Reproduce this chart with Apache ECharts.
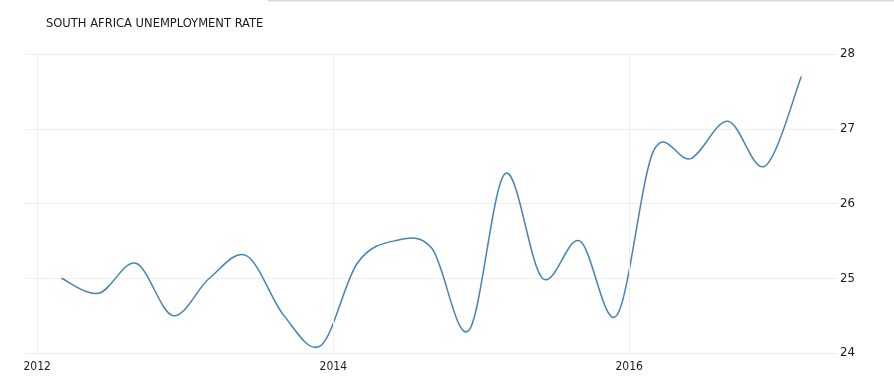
<!DOCTYPE html>
<html>
<head>
<meta charset="utf-8">
<script src="https://cdn.jsdelivr.net/npm/echarts@6/dist/echarts.min.js"></script>
<style>
html,body{margin:0;padding:0;background:#fff;}
#c{width:894px;height:392px;}
</style>
</head>
<body>
<div id="c"></div>
<script>
const titleText = "SOUTH AFRICA UNEMPLOYMENT RATE";
const dates = [
  "2012-03-01","2012-06-01","2012-09-01","2012-12-01",
  "2013-03-01","2013-06-01","2013-09-01","2013-12-01",
  "2014-03-01","2014-06-01","2014-09-01","2014-12-01",
  "2015-03-01","2015-06-01","2015-09-01","2015-12-01",
  "2016-03-01","2016-06-01","2016-09-01","2016-12-01",
  "2017-03-01"
];
const rates = [
  25.0, 24.8, 25.2, 24.5,
  25.0, 25.3, 24.5, 24.1,
  25.2, 25.5, 25.4, 24.3,
  26.4, 25.0, 25.5, 24.5,
  26.7, 26.6, 27.1, 26.5,
  27.7
];
const xTickDates = ["2012-01-01", "2014-01-01", "2016-01-01"];
const yTicks = [24, 25, 26, 27, 28];
const xMin = "2011-12-02";
const xMax = "2017-05-28";

const FONT = "'DejaVu Sans Condensed', 'DejaVu Sans', sans-serif";
const ts = d => Date.parse(d + "T00:00:00Z");
const xTickVals = xTickDates.map(ts);
const seriesData = dates.map((d, i) => [ts(d), rates[i]]);

// Catmull-Rom spline through the pixel positions given by the chart's own scales
function splinePath(pts) {
  const n = pts.length;
  let d = 'M' + pts[0][0] + ' ' + pts[0][1];
  for (let i = 0; i < n - 1; i++) {
    const p0 = pts[Math.max(i - 1, 0)];
    const p1 = pts[i];
    const p2 = pts[i + 1];
    const p3 = pts[Math.min(i + 2, n - 1)];
    const c1x = p1[0] + (p2[0] - p0[0]) / 6;
    const c1y = p1[1] + (p2[1] - p0[1]) / 6;
    const c2x = p2[0] - (p3[0] - p1[0]) / 6;
    const c2y = p2[1] - (p3[1] - p1[1]) / 6;
    d += ' C' + c1x + ' ' + c1y + ' ' + c2x + ' ' + c2y + ' ' + p2[0] + ' ' + p2[1];
  }
  return d;
}

const chart = echarts.init(document.getElementById('c'), null, {renderer: 'canvas'});
chart.setOption({
  animation: false,
  backgroundColor: '#fff',
  title: {
    text: titleText,
    left: 41,
    top: 12,
    textStyle: {fontFamily: FONT, fontSize: 12.8, fontWeight: 'normal', color: '#1a1a1a'}
  },
  graphic: [{
    type: 'line',
    shape: {x1: 268, y1: 0.5, x2: 894, y2: 0.5},
    style: {stroke: '#d8d8d8', lineWidth: 2}
  }],
  grid: {left: 25, right: 57, top: 54, bottom: 39},
  xAxis: {
    type: 'value',
    min: ts(xMin),
    max: ts(xMax),
    axisLine: {show: true, lineStyle: {color: '#eeeeee'}},
    axisTick: {show: false, customValues: xTickVals},
    splitLine: {show: false},
    axisLabel: {
      color: '#1a1a1a', fontFamily: FONT, fontSize: 12, margin: 8,
      customValues: xTickVals,
      formatter: v => String(new Date(v).getUTCFullYear())
    }
  },
  yAxis: {
    type: 'value',
    position: 'right',
    min: 24,
    max: 28,
    interval: 1,
    axisLine: {show: false},
    axisTick: {show: false},
    splitLine: {show: true, lineStyle: {color: '#eeeeee'}},
    axisLabel: {color: '#1a1a1a', fontFamily: FONT, fontSize: 13, margin: 3,
      formatter: v => yTicks.includes(v) ? String(v) : ''}
  },
  series: [{
    type: 'line',
    data: [],
    silent: true,
    markLine: {
      silent: true,
      symbol: ['none', 'none'],
      label: {show: false},
      lineStyle: {color: '#eeeeee', type: 'solid', width: 1},
      data: xTickVals.map(v => ({xAxis: v}))
    }
  }, {
    type: 'custom',
    data: seriesData,
    z: 3,
    renderItem: function (params, api) {
      if (params.dataIndex !== 0) return null;
      const pts = seriesData.map(p => api.coord(p));
      return {
        type: 'path',
        shape: {pathData: splinePath(pts)},
        style: {stroke: '#4682b4', fill: null, lineWidth: 1.5}
      };
    }
  }]
});
</script>
</body>
</html>
